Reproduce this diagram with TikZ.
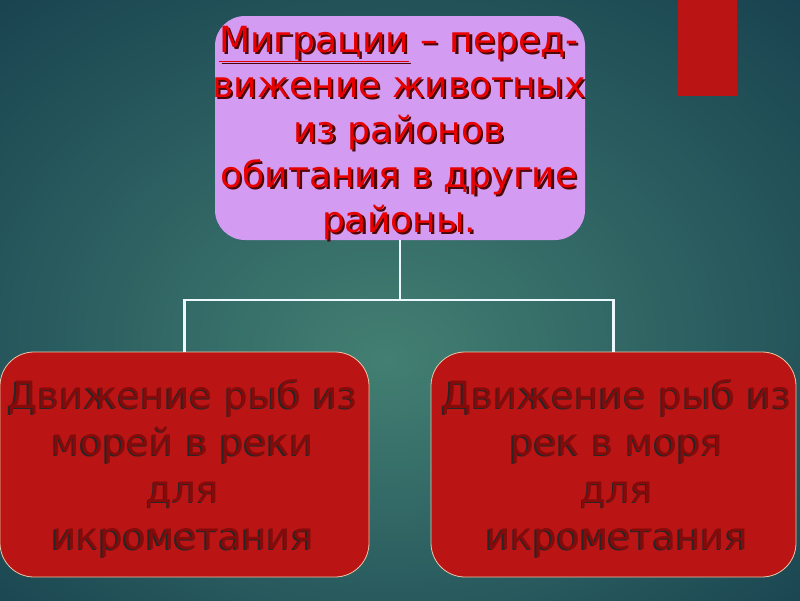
\documentclass[tikz,border=0pt]{standalone}
\usepackage{fontspec}
\setmainfont{DejaVu Sans}
\usepackage{tikz}
\usetikzlibrary{positioning}
\definecolor{bgin}{HTML}{437F72}
\definecolor{bgmid}{HTML}{2B5E60}
\definecolor{bgout}{HTML}{123A4A}
\definecolor{lilac}{HTML}{D39CF2}
\definecolor{boxred}{HTML}{BA1414}
\definecolor{redtxt}{HTML}{E80000}
\definecolor{redshade}{HTML}{4A0808}
\definecolor{darktxt}{HTML}{850B0B}
\definecolor{rimc}{HTML}{E8C8A8}
\pgfdeclareradialshading{bgglow}{\pgfpoint{-1bp}{-5bp}}{color(0bp)=(bgin); color(20bp)=(bgmid); color(42bp)=(bgout); color(50bp)=(bgout)}
\newcommand\shtxt[4]{\leavevmode\rlap{\kern#2\raisebox{#3}{\color{#1}#4}}#4}
\newcommand\topline[1]{\shtxt{redshade}{2.2pt}{-2.2pt}{#1}}
\newcommand\fishline[1]{\shtxt{black!85}{-1.5pt}{-1pt}{#1}}
\tikzset{
    topbox/.style={fill=lilac, rounded corners=30pt, minimum width=370pt, minimum height=224pt, inner sep=0pt},
    fishbox/.style={fill=boxred, draw=rimc, line width=0.8pt, rounded corners=34pt, minimum height=225pt, inner sep=0pt},
    toptext/.style={align=center, font=\fontsize{36}{45}\selectfont, inner sep=0pt, text=redtxt},
    fishtext/.style={align=center, font=\fontsize{37.5}{47}\selectfont, inner sep=0pt, text=darktxt},
    conn/.style={draw=white!92!cyan, line width=2.4pt}
}
\begin{document}
\begin{tikzpicture}[x=1pt, y=-1pt]
            \useasboundingbox (0,0) rectangle (800,600);
            \shade[shading=bgglow] (0,0) rectangle (800,600);
            \fill[boxred] (678,0) rectangle (737,96);

            \node[topbox] (migr) at (400,128) {};
            \node[fishbox, minimum width=369pt] (fishL) at (184.5,464.5) {};
            \node[fishbox, minimum width=365pt] (fishR) at (613.5,464.5) {};

            \coordinate (fork) at (400,300);
            \draw[conn] (migr.south) -- (fork) -| (fishL.north);
            \draw[conn] (fork) -| (fishR.north);

            \node[toptext] (migrT) at (399,134) {\topline{\underline{Миграции} – перед-}\\\topline{вижение животных}\\\topline{из районов}\\\topline{обитания в другие}\\\topline{районы.}};

            \node[fishtext] (seaT) at (183,469) {\fishline{Движение рыб из}\\\fishline{морей в реки}\\\fishline{для}\\\fishline{икрометания}};
            \node[fishtext] (riverT) at (617,469) {\fishline{Движение рыб из}\\\fishline{рек в моря}\\\fishline{для}\\\fishline{икрометания}};
\end{tikzpicture}
\end{document}
